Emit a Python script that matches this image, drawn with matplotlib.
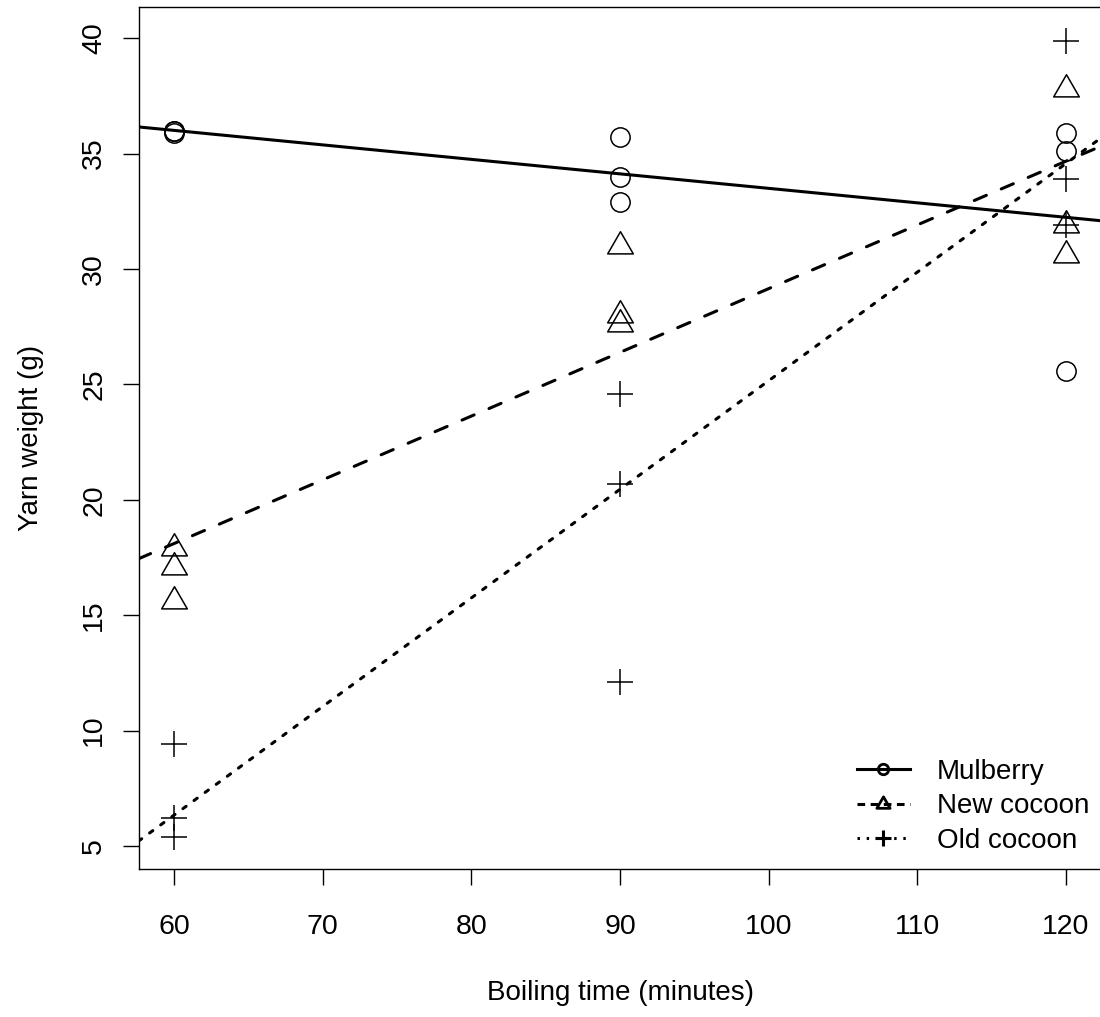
import numpy as np
import matplotlib
matplotlib.use("Agg")
import matplotlib.pyplot as plt
from matplotlib.lines import Line2D
from matplotlib.path import Path

plt.rcParams['font.family'] = ['Liberation Sans', 'DejaVu Sans']

# ---- data ----
boiling_time = [60, 60, 60, 90, 90, 90, 120, 120, 120]
mulberry = [36.0, 35.9, 36.0, 35.7, 34.0, 32.9, 35.9, 35.1, 25.6]
new_cocoon = [17.9, 17.1, 15.6, 31.0, 28.0, 27.6, 37.8, 31.9, 30.6]
old_cocoon = [9.4, 6.2, 5.4, 24.6, 20.7, 12.1, 39.9, 33.9, 31.9]
series_names = ["Mulberry", "New cocoon", "Old cocoon"]
x_ticks = [60, 70, 80, 90, 100, 110, 120]
y_ticks = [5, 10, 15, 20, 25, 30, 35, 40]

W, H = 1100, 1017
fig = plt.figure(figsize=(W / 100, H / 100), dpi=100)
ax_l, ax_r, ax_t, ax_b = 138.5, 1101.7, 7.3, 869.0
ax = fig.add_axes([ax_l / W, 1 - ax_b / H, (ax_r - ax_l) / W, (ax_b - ax_t) / H])
ax.set_xlim(57.6, 122.4)
ax.set_ylim(4.0, 41.34)

tri = Path([(0, 1), (-0.866, -0.5), (0.866, -0.5), (0, 1)],
           [Path.MOVETO, Path.LINETO, Path.LINETO, Path.CLOSEPOLY])

marker_specs = [
    dict(marker='o', ms=13.9, mew=1.1),
    dict(marker=tri, ms=21.3, mew=1.1),
    dict(marker='+', ms=18.5, mew=1.1),
]
line_styles = ['-', (0, (4.3, 5.3)), (0, (1.3, 3.2))]
lw = 2.2

x = np.array(boiling_time, dtype=float)
for vals, ms, ls in zip([mulberry, new_cocoon, old_cocoon], marker_specs, line_styles):
    ax.plot(x, vals, linestyle='none', marker=ms['marker'], markersize=ms['ms'],
            markeredgewidth=ms['mew'], markerfacecolor='none', markeredgecolor='black',
            zorder=3)
    slope, intercept = np.polyfit(x, np.array(vals), 1)
    ax.axline((60, intercept + slope * 60), slope=slope, color='black', lw=lw,
              linestyle=ls, dash_capstyle='round', zorder=2)

for s in ax.spines.values():
    s.set_linewidth(1.0)
ax.set_xticks(x_ticks)
ax.set_yticks(y_ticks)
ax.tick_params(axis='both', direction='out', length=11.5, width=1.0, labelsize=20.5)
ax.tick_params(axis='x', pad=21)
ax.tick_params(axis='y', pad=11)
for lab in ax.get_yticklabels():
    lab.set_rotation(90)
    lab.set_va('center')

fig.text((ax_l + ax_r) / 2 / W, 1 - 1000 / H, "Boiling time (minutes)",
         ha='center', va='baseline', fontsize=20)
fig.text(31 / W, 1 - (ax_t + ax_b) / 2 / H, "Yarn weight (g)",
         ha='center', va='center', rotation=90, fontsize=20)

handles = [
    Line2D([], [], color='black', lw=lw, linestyle=line_styles[0], marker='o',
           markersize=7.5, markeredgewidth=2.0, markerfacecolor='none'),
    Line2D([], [], color='black', lw=lw, linestyle=(0, (2.5, 1.8)), marker=tri,
           markersize=11, markeredgewidth=2.0, markerfacecolor='none', dash_capstyle='butt'),
    Line2D([], [], color='black', lw=lw, linestyle=(0, (0.8, 2.2)), marker='+',
           markersize=11, markeredgewidth=2.2, markerfacecolor='none'),
]
leg = ax.legend(handles, series_names, loc='upper left',
                bbox_to_anchor=(857 / W, 1 - 759 / H), bbox_transform=fig.transFigure,
                frameon=False, fontsize=20, handlelength=1.9, handletextpad=0.97,
                labelspacing=0.3, borderpad=0, borderaxespad=0, numpoints=1)

fig.savefig("out.png", dpi=100)
